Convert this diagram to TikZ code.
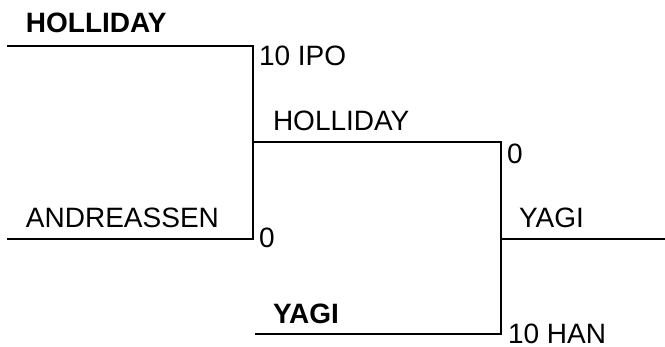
\documentclass[tikz,border=0pt]{standalone}
\usepackage{fontspec}
\setmainfont{Liberation Sans}
\begin{document}
\begin{tikzpicture}[x=1pt, y=-1pt, line width=2pt,
		player/.style={anchor=base west, inner sep=0pt, font=\fontsize{28}{32}\selectfont},
		champ/.style={player, font=\fontsize{28}{32}\selectfont\bfseries}]
	\useasboundingbox (0,0) rectangle (665,346);
	% Corners
	\coordinate (ha) at (7,46);
	\coordinate (hb) at (253,46);
	\coordinate (aa) at (7,239);
	\coordinate (ab) at (253,239);
	\coordinate (hm) at (253,142);
	\coordinate (hr) at (501,142);
	\coordinate (ya) at (255,334);
	\coordinate (yb) at (501,334);
	\coordinate (ym) at (501,239);
	\coordinate (yr) at (665,239);
	% Lines
	\draw (ha) -- (hb) -- (ab) -- (aa);
	\draw (hm) -- (hr) -- (yb) -- (ya);
	\draw (ym) -- (yr);
	% Names
	\node[champ] (holliday) at (25,32) {HOLLIDAY};
	\node[player] (andreassen) at (25,227) {ANDREASSEN};
	\node[player] (holliday2) at (272,130) {HOLLIDAY};
	\node[champ] (yagi) at (272,323) {YAGI};
	\node[player] (yagi2) at (518,227) {YAGI};
	% Scores
	\node[player] (ipo) at (258,65) {10 IPO};
	\node[player] (andscore) at (258,247) {0};
	\node[player] (hollscore) at (506,163) {0};
	\node[player] (han) at (507,343) {10 HAN};
\end{tikzpicture}
\end{document}
